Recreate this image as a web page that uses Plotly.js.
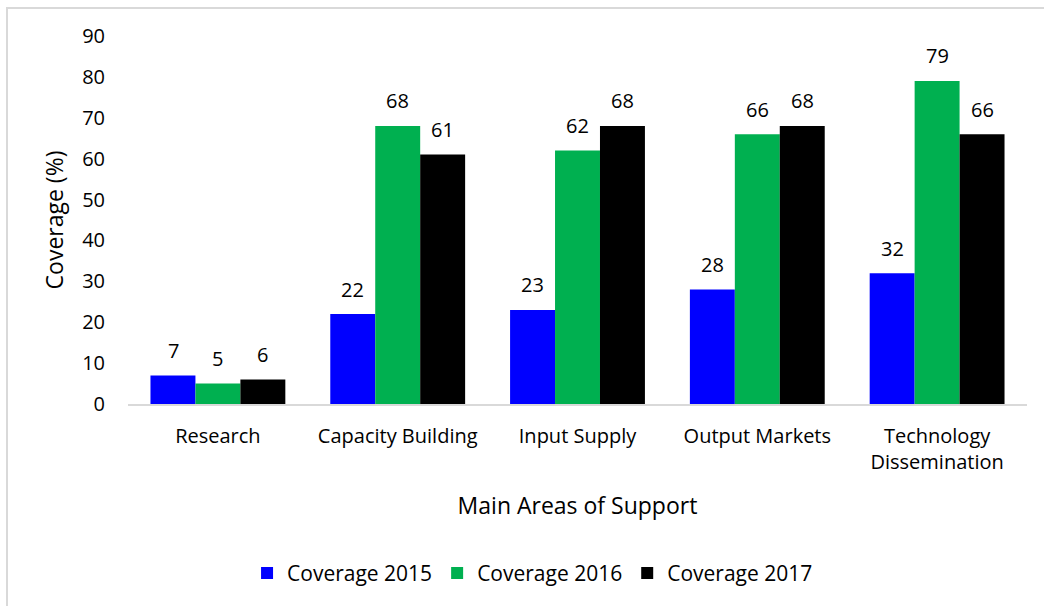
<!DOCTYPE html>
<html><head><meta charset="utf-8">
<script src="https://cdn.plot.ly/plotly-3.0.1.min.js"></script>
<style>
html,body{margin:0;padding:0;background:#fff;}
#frame{position:absolute;left:6px;top:7px;width:1100px;height:700px;border:2px solid #d9d9d9;box-sizing:border-box;pointer-events:none;z-index:5;}
#chart{position:absolute;left:0;top:0;width:1044px;height:606px;}
</style></head>
<body>
<div id="chart"></div><div id="frame"></div>
<script>
const categories = ["Research","Capacity Building","Input Supply","Output Markets","Technology<br>Dissemination"];
const seriesNames = ["Coverage 2015","Coverage 2016","Coverage 2017"];
const cov2015 = [7,22,23,28,32];
const cov2016 = [5,68,62,66,79];
const cov2017 = [6,61,68,68,66];
const colors = ["#0000FF","#00B050","#000000"];
const allSeries = [cov2015,cov2016,cov2017];
const FONT = "Open Sans, sans-serif";

const traces = allSeries.map((vals,i)=>({
  type:'bar', name:seriesNames[i], x:categories, y:vals,
  marker:{color:colors[i]}, hoverinfo:'none'
}));

const barPx = 44.9;
const annotations = [];
allSeries.forEach((vals,i)=>{
  vals.forEach((v,j)=>{
    annotations.push({x:categories[j], y:v, xref:'x', yref:'y', text:String(v),
      showarrow:false, xshift:(i-1)*barPx, yshift:25,
      font:{family:FONT,size:20,color:'#000'}});
  });
});

const layout = {
  width:1044, height:606,
  margin:{l:128,r:17,t:36,b:200},
  paper_bgcolor:'#fff', plot_bgcolor:'#fff',
  barmode:'group', bargap:0.25, bargroupgap:0,
  font:{family:FONT,size:20,color:'#000'},
  xaxis:{type:'category', showline:true, linecolor:'#d9d9d9', linewidth:2,
    ticks:'', ticklabelstandoff:13, tickfont:{family:FONT,size:20,color:'#000'},
    title:{text:'Main Areas of Support', font:{family:FONT,size:23,color:'#000'}, standoff:24},
    fixedrange:true},
  yaxis:{range:[0,90], dtick:10, showgrid:false, zeroline:false, showline:false,
    ticks:'', ticklabelstandoff:22, tickfont:{family:FONT,size:20,color:'#000'},
    title:{text:'Coverage (%)', font:{family:FONT,size:23,color:'#000'}, standoff:12},
    fixedrange:true},
  legend:{orientation:'h', x:0.45, xanchor:'center', y:-0.46, yanchor:'middle',
    font:{family:FONT,size:21,color:'#000'}, itemwidth:30, traceorder:'normal'},
  annotations:annotations,
  showlegend:true
};
Plotly.newPlot('chart', traces, layout, {displayModeBar:false, staticPlot:true});
</script>
</body></html>
